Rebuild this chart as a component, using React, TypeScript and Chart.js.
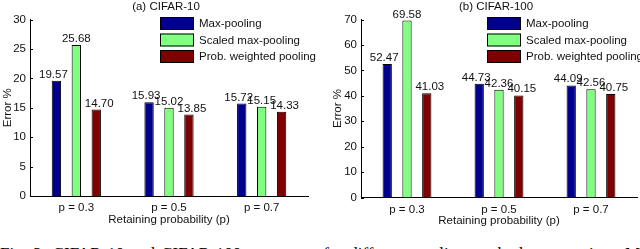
import React, { useEffect, useRef } from "react";
import { Chart, registerables } from "chart.js";

Chart.register(...registerables);

const categories = ["p = 0.3", "p = 0.5", "p = 0.7"];
const seriesNames = ["Max-pooling", "Scaled max-pooling", "Prob. weighted pooling"];
const seriesColors = ["#00008c", "#80ff80", "#800000"];

const cifar10Max = [19.57, 15.93, 15.72];
const cifar10Scaled = [25.68, 15.02, 15.15];
const cifar10Prob = [14.7, 13.85, 14.33];
const cifar10Ticks = [0, 5, 10, 15, 20, 25, 30];

const cifar100Max = [52.47, 44.73, 44.09];
const cifar100Scaled = [69.58, 42.36, 42.56];
const cifar100Prob = [41.03, 40.15, 40.75];
const cifar100Ticks = [0, 10, 20, 30, 40, 50, 60, 70];

const FONT = "'Liberation Sans', Arial, sans-serif";
const FS = 11.5;
const TEXT = "#111";

type PanelCfg = {
  title: string;
  series: number[][];
  ticks: number[];
  width: number;
  height: number;
  padTop: number;
  padRight: number;
  yWidth: number;
  xHeight: number;
  xTitlePad: number;
  legendX: number;
  titleShift: number;
};

const overlayPlugin = {
  id: "overlay",
  afterDraw(chart: any, _args: any, opts: any) {
    const ctx = chart.ctx;
    const area = chart.chartArea;
    ctx.save();
    // inward y ticks
    const y = chart.scales.y;
    ctx.strokeStyle = "#000";
    ctx.lineWidth = 1;
    y.ticks.forEach((t: any) => {
      const py = Math.round(y.getPixelForValue(t.value)) + 0.5;
      ctx.beginPath();
      ctx.moveTo(area.left, py);
      ctx.lineTo(area.left + 3, py);
      ctx.stroke();
    });
    // title
    ctx.fillStyle = TEXT;
    ctx.font = `${FS}px ${FONT}`;
    ctx.textAlign = "center";
    ctx.textBaseline = "middle";
    ctx.fillText(opts.title, (area.left + area.right) / 2 + opts.titleShift, 7);
    // data labels
    const shifts = [-3, 0, 3];
    ctx.textBaseline = "alphabetic";
    chart.data.datasets.forEach((ds: any, di: number) => {
      const meta = chart.getDatasetMeta(di);
      meta.data.forEach((bar: any, i: number) => {
        const v = ds.data[i];
        ctx.fillText(v.toFixed(2), bar.x + shifts[di], bar.y - 3);
      });
    });
    // legend
    const sw = 34;
    const sh = 13;
    const pitch = 16.5;
    const top0 = 17;
    ctx.textAlign = "left";
    ctx.textBaseline = "middle";
    chart.data.datasets.forEach((ds: any, di: number) => {
      const ty = top0 + di * pitch;
      ctx.fillStyle = ds.backgroundColor;
      ctx.fillRect(opts.legendX, ty, sw, sh);
      ctx.strokeStyle = "#000";
      ctx.strokeRect(opts.legendX + 0.5, ty + 0.5, sw - 1, sh - 1);
      ctx.fillStyle = TEXT;
      ctx.fillText(ds.label, opts.legendX + sw + 5, ty + sh / 2 + 0.5);
    });
    ctx.restore();
  },
};

function Panel({ cfg }: { cfg: PanelCfg }) {
  const ref = useRef<HTMLCanvasElement | null>(null);
  useEffect(() => {
    if (!ref.current) return;
    const chart = new Chart(ref.current, {
      type: "bar",
      data: {
        labels: categories,
        datasets: cfg.series.map((d, i) => ({
          label: seriesNames[i],
          data: d,
          backgroundColor: seriesColors[i],
          borderColor: "#000",
          borderWidth: 1,
          categoryPercentage: 0.645,
          barPercentage: 0.47,
        })),
      },
      options: {
        animation: false,
        responsive: false,
        devicePixelRatio: 1,
        layout: { padding: { top: cfg.padTop, right: cfg.padRight, left: 0, bottom: 0 } },
        plugins: {
          legend: { display: false },
          tooltip: { enabled: false },
          title: { display: false },
          overlay: { title: cfg.title, legendX: cfg.legendX, titleShift: cfg.titleShift },
        } as any,
        scales: {
          x: {
            grid: { display: false, drawTicks: false },
            border: { display: true, color: "#000", width: 1 },
            ticks: { color: TEXT, font: { family: FONT, size: FS }, padding: 5, maxRotation: 0 },
            title: {
              display: true,
              text: "Retaining probability (p)",
              color: TEXT,
              font: { family: FONT, size: FS },
              padding: { top: 0, bottom: cfg.xTitlePad },
            },
            afterFit: (s: any) => {
              s.height = cfg.xHeight;
            },
          },
          y: {
            min: 0,
            max: cfg.ticks[cfg.ticks.length - 1],
            grid: { display: false, drawTicks: false },
            border: { display: true, color: "#000", width: 1 },
            ticks: { color: TEXT, font: { family: FONT, size: FS }, padding: 4 },
            afterBuildTicks: (s: any) => {
              s.ticks = cfg.ticks.map((v) => ({ value: v }));
            },
            title: {
              display: true,
              text: "Error %",
              color: TEXT,
              font: { family: FONT, size: FS },
              padding: { top: 1, bottom: 0 },
            },
            afterFit: (s: any) => {
              s.width = cfg.yWidth;
            },
          },
        },
      },
      plugins: [overlayPlugin],
    });
    return () => chart.destroy();
  }, [cfg]);
  return <canvas ref={ref} width={cfg.width} height={cfg.height} style={{ display: "block" }} />;
}

const leftCfg: PanelCfg = {
  title: "(a) CIFAR-10",
  series: [cifar10Max, cifar10Scaled, cifar10Prob],
  ticks: cifar10Ticks,
  width: 320,
  height: 230,
  padTop: 19.5,
  padRight: 12,
  yWidth: 30,
  xHeight: 34,
  xTitlePad: 3.5,
  legendX: 160,
  titleShift: -3,
};

const rightCfg: PanelCfg = {
  title: "(b) CIFAR-100",
  series: [cifar100Max, cifar100Scaled, cifar100Prob],
  ticks: cifar100Ticks,
  width: 310,
  height: 232,
  padTop: 19.5,
  padRight: 3,
  yWidth: 31,
  xHeight: 34.5,
  xTitlePad: 4.5,
  legendX: 157,
  titleShift: -3,
};

export default function App() {
  return (
    <div
      style={{
        position: "fixed",
        left: 0,
        top: 0,
        width: 640,
        height: 249,
        overflow: "hidden",
        background: "#fff",
      }}
    >
      <div style={{ position: "absolute", left: 0, top: 0 }}>
        <Panel cfg={leftCfg} />
      </div>
      <div style={{ position: "absolute", left: 330, top: 0 }}>
        <Panel cfg={rightCfg} />
      </div>
      <div
        style={{
          position: "absolute",
          left: 0,
          top: 244.5,
          width: 640,
          fontFamily: "'Liberation Serif', 'Times New Roman', serif",
          fontSize: 17,
          lineHeight: "17px",
          whiteSpace: "nowrap",
          overflow: "hidden",
          textAlign: "justify",
          textAlignLast: "justify",
          color: "#000",
        }}
      >
        Fig. 3: CIFAR-10 and CIFAR-100 test errors for different pooling methods at test time. M
      </div>
    </div>
  );
}
